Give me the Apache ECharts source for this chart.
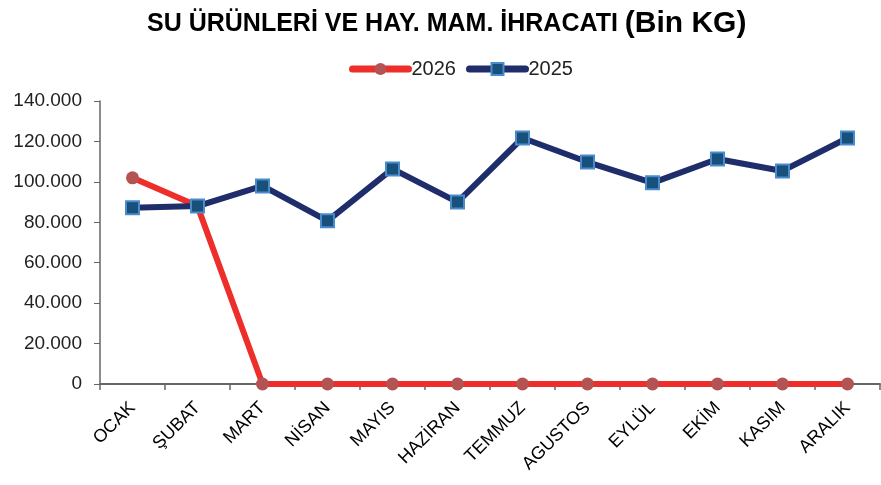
<!DOCTYPE html>
<html lang="tr">
<head>
<meta charset="UTF-8">
<title>Su Ürünleri İhracatı</title>
<style>
    html, body { margin: 0; padding: 0; background: #fff; }
    #chart { width: 881px; height: 485px; }
</style>
</head>
<body>
<div id="chart"></div>
<script src="https://cdn.jsdelivr.net/npm/echarts@6/dist/echarts.min.js"></script>
<script>
    var months = ['OCAK', 'ŞUBAT', 'MART', 'NİSAN', 'MAYIS', 'HAZİRAN', 'TEMMUZ', 'AGUSTOS', 'EYLÜL', 'EKİM', 'KASIM', 'ARALIK'];
    var data2026 = [102000, 88000, 0, 0, 0, 0, 0, 0, 0, 0, 0, 0];
    var data2025 = [87200, 88000, 98000, 80700, 106400, 90000, 121700, 109800, 99500, 111300, 105400, 121700];

    var chart = echarts.init(document.getElementById('chart'));

    // binlik ayırıcı nokta
    function fmt(v) {
        return String(v).replace(/\B(?=(\d{3})+(?!\d))/g, '.');
    }

    var option = {
        animation: false,
        title: {
            text: '{a|SU ÜRÜNLERİ VE HAY. MAM. İHRACATI }{b|(Bin KG)}',
            left: 142,
            top: 4,
            textStyle: {
                rich: {
                    a: { fontFamily: 'Liberation Sans', fontSize: 25, fontWeight: 'bold', color: '#000' },
                    b: { fontFamily: 'Liberation Sans', fontSize: 30, fontWeight: 'bold', color: '#000' }
                }
            }
        },
        legend: {
            top: 54,
            left: 344,
            itemWidth: 56,
            itemHeight: 15,
            itemGap: 10,
            lineStyle: { width: 7, cap: 'round' },
            textStyle: { fontFamily: 'Liberation Sans', fontSize: 20, color: '#222', padding: [0, 0, 0, -2] },
            data: ['2026', '2025']
        },
        grid: { left: 100, right: 1, top: 101, bottom: 101, containLabel: false },
        xAxis: {
            type: 'category',
            data: months,
            boundaryGap: true,
            axisLine: { lineStyle: { color: '#666', width: 2 } },
            axisTick: { show: true, length: 6, lineStyle: { color: '#666', width: 1.5 } },
            axisLabel: {
                interval: 0, rotate: 45, margin: 21,
                fontFamily: 'Liberation Sans', fontSize: 18, color: '#000'
            }
        },
        yAxis: {
            type: 'value',
            min: 0, max: 140000, interval: 20000,
            splitLine: { show: false },
            axisLine: { show: true, lineStyle: { color: '#666', width: 1.5 } },
            axisTick: { show: true, inside: false, length: 6, lineStyle: { color: '#666' } },
            axisLabel: {
                formatter: fmt, margin: 18,
                fontFamily: 'Liberation Sans', fontSize: 19, color: '#222'
            }
        },
        series: [
            {
                name: '2026',
                type: 'line',
                data: data2026,
                symbol: 'circle',
                symbolSize: 13,
                lineStyle: { color: '#ee2e2a', width: 6, cap: 'round' },
                itemStyle: { color: '#b35353', borderWidth: 0 },
                z: 2
            },
            {
                name: '2025',
                type: 'line',
                data: data2025,
                symbol: 'rect',
                symbolSize: 13,
                lineStyle: { color: '#1f2d6b', width: 6, cap: 'round' },
                itemStyle: { color: '#17507a', borderColor: '#4a8ccb', borderWidth: 2 },
                z: 3
            }
        ]
    };

    chart.setOption(option);
</script>
</body>
</html>
